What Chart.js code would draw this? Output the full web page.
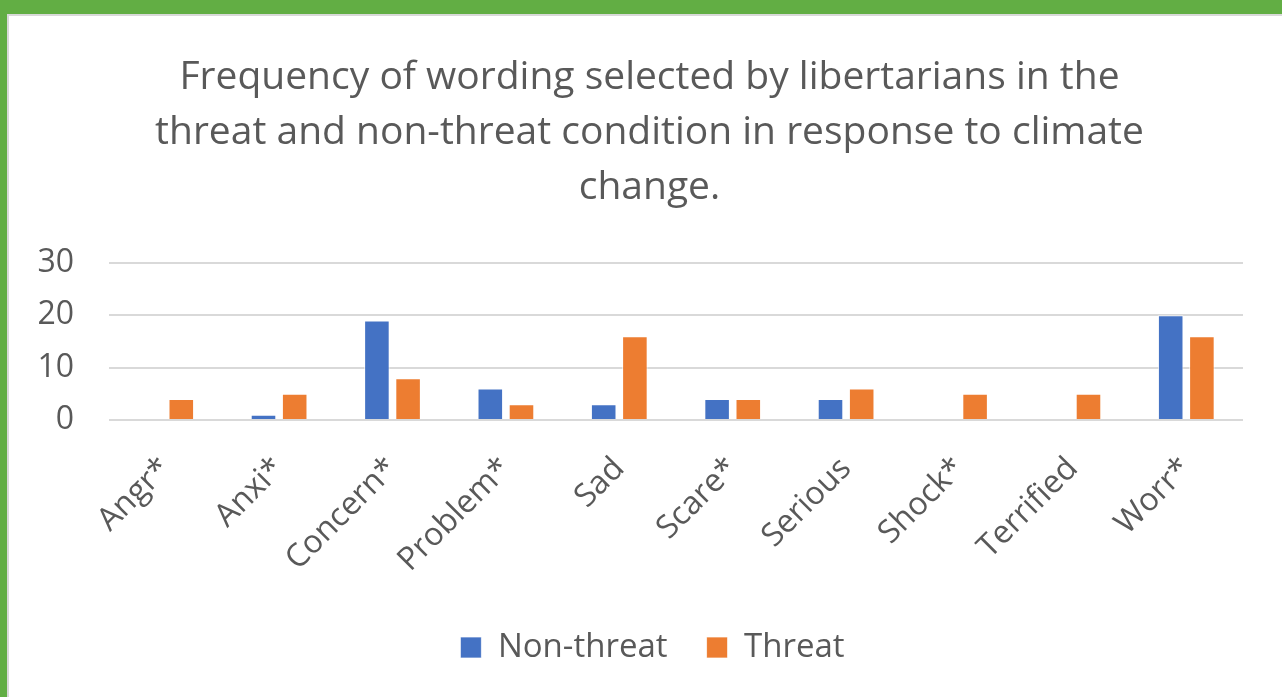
<!DOCTYPE html>
<html>
<head>
<meta charset="utf-8">
<script src="https://cdn.jsdelivr.net/npm/chart.js@4.4.1/dist/chart.umd.min.js"></script>
<style>
  html, body { margin: 0; padding: 0; background: #ffffff; overflow: hidden; }
  #frame { position: absolute; left: 0; top: 0; width: 1282px; height: 697px; box-sizing: border-box;
           border-top: 14px solid #62AE44; border-left: 7px solid #62AE44; }
  #inner { position: absolute; left: 0; top: 0; right: 0; bottom: 0; box-sizing: border-box;
           border-top: 2px solid #d9d9d9; border-left: 2px solid #d9d9d9; background: #fff; }
  #wrap { position: absolute; left: 0; top: 0; width: 1273px; height: 681px; }
</style>
</head>
<body>
<div id="frame"><div id="inner"><div id="wrap"><canvas id="c"></canvas></div></div></div>
<script>
const categories = ["Angr*", "Anxi*", "Concern*", "Problem*", "Sad", "Scare*", "Serious", "Shock*", "Terrified", "Worr*"];
const nonThreat = [0, 1, 19, 6, 3, 4, 4, 0, 0, 20];
const threat    = [4, 5, 8, 3, 16, 4, 6, 5, 5, 16];
const yTicks = [0, 10, 20, 30];
const titleLines = ["Frequency of wording selected by libertarians in the",
                    "threat and non-threat condition in response to climate",
                    "change."];

const FONT = "'Open Sans', 'Noto Sans', sans-serif";
const TXT = "#595959";

// shift the centred title and legend slightly right, as in the reference
const centreShift = {
  id: "centreShift",
  afterLayout(chart) {
    if (chart.titleBlock) { chart.titleBlock.left += 9; chart.titleBlock.right += 9; }
    if (chart.legend) { chart.legend.left += 12; chart.legend.right += 12; }
  }
};

new Chart(document.getElementById("c"), {
  type: "bar",
  data: {
    labels: categories,
    datasets: [
      { label: "Non-threat", data: nonThreat, backgroundColor: "#4472C4",
        borderColor: "rgba(255,255,255,0.7)", borderWidth: 1,
        categoryPercentage: 0.55, barPercentage: 0.82 },
      { label: "Threat", data: threat, backgroundColor: "#ED7D31",
        borderColor: "rgba(255,255,255,0.7)", borderWidth: 1,
        categoryPercentage: 0.55, barPercentage: 0.82 }
    ]
  },
  plugins: [centreShift],
  options: {
    responsive: true,
    maintainAspectRatio: false,
    animation: false,
    layout: { padding: { left: 29, right: 39, top: 34, bottom: 25 } },
    plugins: {
      title: {
        display: true,
        text: titleLines,
        color: TXT,
        font: { family: FONT, size: 39, weight: "normal", lineHeight: 1.41 },
        padding: { top: 0, bottom: 48 }
      },
      legend: {
        position: "bottom",
        maxHeight: 80,
        labels: {
          color: TXT,
          font: { family: FONT, size: 33 },
          boxWidth: 21, boxHeight: 21, padding: 39
        }
      },
      tooltip: { enabled: false }
    },
    scales: {
      x: {
        grid: { display: false, drawTicks: false },
        border: { display: false },
        afterFit: (s) => { s.paddingLeft = 0; s.paddingRight = 0; s.height = 172; },
        ticks: {
          color: TXT, font: { family: FONT, size: 32 },
          maxRotation: 45, minRotation: 45, autoSkip: false, padding: 30
        }
      },
      y: {
        min: 0, max: 30,
        afterBuildTicks: (axis) => { axis.ticks = yTicks.map(v => ({ value: v })); },
        afterFit: (s) => { s.width = 71; },
        grid: { color: "#d9d9d9", lineWidth: 2, drawTicks: false },
        border: { display: false },
        ticks: { color: TXT, font: { family: FONT, size: 32 }, padding: 35 }
      }
    }
  }
});
</script>
</body>
</html>
